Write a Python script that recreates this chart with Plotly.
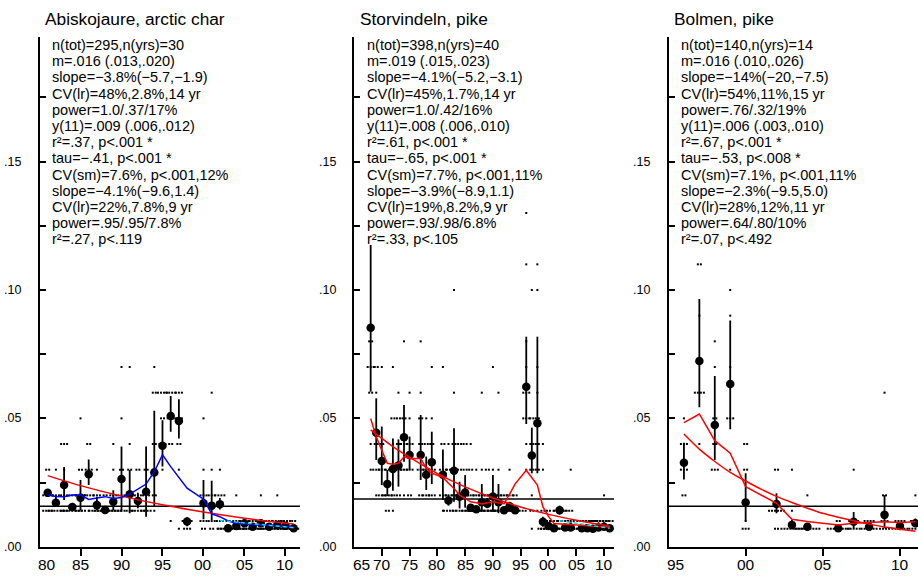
import plotly.graph_objects as go

W, H = 918, 576

# ---------------- DATA ----------------
titles = ["Abiskojaure, arctic char", "Storvindeln, pike", "Bolmen, pike"]

stats_p1 = ["n(tot)=295,n(yrs)=30", "m=.016 (.013,.020)", "slope=−3.8%(−5.7,−1.9)",
            "CV(lr)=48%,2.8%,14 yr", "power=1.0/.37/17%", "y(11)=.009 (.006,.012)",
            "r²=.37, p<.001 *", "tau=−.41, p<.001 *", "CV(sm)=7.6%, p<.001,12%",
            "slope=−4.1%(−9.6,1.4)", "CV(lr)=22%,7.8%,9 yr", "power=.95/.95/7.8%",
            "r²=.27, p<.119"]
stats_p2 = ["n(tot)=398,n(yrs)=40", "m=.019 (.015,.023)", "slope=−4.1%(−5.2,−3.1)",
            "CV(lr)=45%,1.7%,14 yr", "power=1.0/.42/16%", "y(11)=.008 (.006,.010)",
            "r²=.61, p<.001 *", "tau=−.65, p<.001 *", "CV(sm)=7.7%, p<.001,11%",
            "slope=−3.9%(−8.9,1.1)", "CV(lr)=19%,8.2%,9 yr", "power=.93/.98/6.8%",
            "r²=.33, p<.105"]
stats_p3 = ["n(tot)=140,n(yrs)=14", "m=.016 (.010,.026)", "slope=−14%(−20,−7.5)",
            "CV(lr)=54%,11%,15 yr", "power=.76/.32/19%", "y(11)=.006 (.003,.010)",
            "r²=.67, p<.001 *", "tau=−.53, p<.008 *", "CV(sm)=7.1%, p<.001,11%",
            "slope=−2.3%(−9.5,5.0)", "CV(lr)=28%,12%,11 yr", "power=.64/.80/10%",
            "r²=.07, p<.492"]

# yearly means and 95% CI
p1_years = [1981, 1982, 1983, 1984, 1985, 1986, 1987, 1988, 1989, 1990, 1991, 1992, 1993, 1994,
            1995, 1996, 1997, 1998, 2000, 2001, 2002, 2003, 2004, 2005, 2006, 2007, 2008, 2009,
            2010, 2011]
p1_mean = [0.0210, 0.0171, 0.0240, 0.0155, 0.0191, 0.0282, 0.0162, 0.0143, 0.0175, 0.0264,
           0.0204, 0.0178, 0.0214, 0.0289, 0.0393, 0.0509, 0.0490, 0.0098, 0.0169, 0.0160,
           0.0165, 0.0072, 0.0081, 0.0091, 0.0078, 0.0091, 0.0078, 0.0085, 0.0082, 0.0072]
p1_lo = [0.0195, 0.0155, 0.0182, 0.0145, 0.0143, 0.0240, 0.0143, 0.0135, 0.0143, 0.0143,
         0.0130, 0.0150, 0.0117, 0.0155, 0.0312, 0.0448, 0.0422, 0.0080, 0.0107, 0.0104,
         0.0145, 0.0068, 0.0075, 0.0082, 0.0072, 0.0082, 0.0072, 0.0078, 0.0076, 0.0068]
p1_hi = [0.0225, 0.0195, 0.0310, 0.0170, 0.0260, 0.0340, 0.0195, 0.0155, 0.0220, 0.0390,
         0.0299, 0.0210, 0.0390, 0.0530, 0.0493, 0.0587, 0.0574, 0.0115, 0.0260, 0.0257,
         0.0190, 0.0078, 0.0090, 0.0100, 0.0085, 0.0100, 0.0085, 0.0095, 0.0090, 0.0078]

p2_years = [1968, 1969, 1970, 1971, 1972, 1973, 1974, 1975, 1977, 1978, 1979, 1981, 1982, 1983,
            1984, 1985, 1986, 1987, 1988, 1989, 1990, 1991, 1992, 1993, 1994, 1996, 1997, 1998,
            1999, 2000, 2001, 2002, 2003, 2004, 2006, 2007, 2008, 2009, 2010, 2011]
p2_mean = [0.0853, 0.0444, 0.0334, 0.0244, 0.0303, 0.0316, 0.0426, 0.0357, 0.0357, 0.0280,
           0.0329, 0.0280, 0.0180, 0.0296, 0.0195, 0.0211, 0.0152, 0.0146, 0.0173, 0.0167,
           0.0196, 0.0173, 0.0142, 0.0158, 0.0142, 0.0623, 0.0355, 0.0481, 0.0097, 0.0081,
           0.0072, 0.0142, 0.0075, 0.0075, 0.0072, 0.0072, 0.0070, 0.0075, 0.0078, 0.0072]
p2_lo = [0.0604, 0.0338, 0.0240, 0.0197, 0.0218, 0.0234, 0.0331, 0.0299, 0.0260, 0.0221,
         0.0244, 0.0182, 0.0160, 0.0175, 0.0149, 0.0152, 0.0140, 0.0138, 0.0143, 0.0150,
         0.0143, 0.0130, 0.0132, 0.0145, 0.0135, 0.0478, 0.0286, 0.0286, 0.0078, 0.0074,
         0.0068, 0.0125, 0.0070, 0.0070, 0.0068, 0.0068, 0.0066, 0.0070, 0.0072, 0.0068]
p2_hi = [0.1175, 0.0578, 0.0468, 0.0299, 0.0422, 0.0418, 0.0552, 0.0429, 0.0513, 0.0351,
         0.0448, 0.0379, 0.0200, 0.0461, 0.0253, 0.0279, 0.0165, 0.0155, 0.0244, 0.0190,
         0.0279, 0.0244, 0.0155, 0.0175, 0.0150, 0.0818, 0.0464, 0.0818, 0.0117, 0.0090,
         0.0078, 0.0160, 0.0082, 0.0095, 0.0078, 0.0078, 0.0076, 0.0095, 0.0095, 0.0078]

p3_years = [1996, 1997, 1998, 1999, 2000, 2002, 2003, 2004, 2006, 2007, 2008, 2009, 2010, 2011]
p3_mean = [0.0327, 0.0723, 0.0474, 0.0634, 0.0172, 0.0166, 0.0085, 0.0078, 0.0072, 0.0097,
           0.0078, 0.0124, 0.0081, 0.0091]
p3_lo = [0.0262, 0.0543, 0.0338, 0.0458, 0.0101, 0.0130, 0.0072, 0.0072, 0.0068, 0.0072,
         0.0072, 0.0072, 0.0074, 0.0078]
p3_hi = [0.0405, 0.0965, 0.0665, 0.0881, 0.0286, 0.0208, 0.0105, 0.0088, 0.0078, 0.0135,
         0.0088, 0.0201, 0.0090, 0.0110]

# overall mean (horizontal line)
p1_m, p2_m, p3_m = 0.0158, 0.0186, 0.0158

# log-linear regression lines (read at a few years)
p1_reg_years = [1981, 1985, 1990, 1995, 2000, 2005, 2011]
p1_reg = [0.0277, 0.0238, 0.0197, 0.0163, 0.0135, 0.0111, 0.0088]
p2_reg_years = [1968, 1972, 1976, 1980, 1985, 1990, 1995, 2000, 2005, 2011]
p2_reg = [0.0455, 0.0390, 0.0335, 0.0285, 0.0233, 0.0190, 0.0155, 0.0126, 0.0103, 0.0080]
p3_reg_years = [1996, 1997, 1998, 1999, 2000, 2001, 2002, 2003, 2004, 2005, 2006, 2007, 2008,
                2009, 2010, 2011]
p3_reg = [0.0439, 0.0380, 0.0332, 0.0290, 0.0256, 0.0224, 0.0196, 0.0172, 0.0150, 0.0130,
          0.0115, 0.0101, 0.0088, 0.0077, 0.0068, 0.0060]

# smoothed lines
p1_smooth = [0.0201, 0.0196, 0.0195, 0.0201, 0.0201, 0.0184, 0.0190, 0.0195, 0.0188, 0.0192,
             0.0205, 0.0226, 0.0244, 0.0292, 0.0358, 0.0312, 0.0270, 0.0228, 0.0185, 0.0128,
             0.0117, 0.0100, 0.0091, 0.0088, 0.0086, 0.0085, 0.0083, 0.0082, 0.0080, 0.0078]
p2_smooth = [0.0499, 0.0428, 0.0376, 0.0325, 0.0321, 0.0325, 0.0350, 0.0344, 0.0344, 0.0305,
             0.0286, 0.0270, 0.0247, 0.0227, 0.0201, 0.0188, 0.0175, 0.0171, 0.0166, 0.0171,
             0.0175, 0.0171, 0.0168, 0.0205, 0.0245, 0.0298, 0.0270, 0.0240, 0.0155, 0.0118,
             0.0090, 0.0089, 0.0088, 0.0087, 0.0083, 0.0082, 0.0080, 0.0079, 0.0078, 0.0077]
p3_smooth = [0.0483, 0.0517, 0.0413, 0.0364, 0.0234, 0.0169, 0.0107, 0.0098, 0.0085, 0.0091,
             0.0094, 0.0097, 0.0094, 0.0097]

# recent-period trend (dashed cyan)
p1_recent_years = [2002, 2011]
p1_recent = [0.0102, 0.0074]
p2_recent_years = [2002, 2011]
p2_recent = [0.0101, 0.0072]

# individual samples: (year, value, count)
p1_raw = [
    (1981, 0.03, 2), (1981, 0.02, 4), (1981, 0.014, 4),
    (1982, 0.03, 1), (1982, 0.02, 3), (1982, 0.014, 6),
    (1983, 0.04, 3), (1983, 0.03, 1), (1983, 0.02, 3), (1983, 0.014, 3),
    (1984, 0.02, 3), (1984, 0.014, 7),
    (1985, 0.05, 1), (1985, 0.03, 2), (1985, 0.02, 4), (1985, 0.014, 4),
    (1986, 0.04, 2), (1986, 0.03, 3), (1986, 0.02, 4), (1986, 0.014, 1),
    (1987, 0.03, 1), (1987, 0.02, 3), (1987, 0.014, 6),
    (1988, 0.02, 2), (1988, 0.014, 8),
    (1989, 0.04, 1), (1989, 0.03, 1), (1989, 0.02, 3), (1989, 0.014, 6),
    (1990, 0.07, 1), (1990, 0.05, 1), (1990, 0.03, 2), (1990, 0.02, 3), (1990, 0.014, 3),
    (1991, 0.07, 1), (1991, 0.04, 1), (1991, 0.03, 2), (1991, 0.02, 3), (1991, 0.014, 3),
    (1992, 0.03, 2), (1992, 0.02, 3), (1992, 0.014, 5),
    (1993, 0.21, 1), (1993, 0.03, 2), (1993, 0.02, 3), (1993, 0.014, 4),
    (1994, 0.07, 1), (1994, 0.06, 2), (1994, 0.04, 2), (1994, 0.03, 2), (1994, 0.02, 2),
    (1994, 0.014, 1),
    (1995, 0.06, 4), (1995, 0.05, 2), (1995, 0.04, 3), (1995, 0.03, 1),
    (1996, 0.06, 4), (1996, 0.05, 3), (1996, 0.04, 2), (1996, 0.01, 1),
    (1997, 0.06, 3), (1997, 0.05, 3), (1997, 0.04, 2), (1997, 0.03, 1), (1997, 0.007, 1),
    (1998, 0.01, 4), (1998, 0.007, 3),
    (2000, 0.05, 1), (2000, 0.03, 1), (2000, 0.02, 3), (2000, 0.01, 3), (2000, 0.007, 2),
    (2001, 0.06, 1), (2001, 0.03, 1), (2001, 0.02, 3), (2001, 0.01, 3), (2001, 0.007, 2),
    (2002, 0.03, 1), (2002, 0.02, 4), (2002, 0.01, 3), (2002, 0.007, 2),
    (2003, 0.01, 2), (2003, 0.007, 8),
    (2004, 0.02, 1), (2004, 0.01, 3), (2004, 0.007, 6),
    (2005, 0.01, 4), (2005, 0.007, 6),
    (2006, 0.01, 3), (2006, 0.007, 7),
    (2007, 0.02, 1), (2007, 0.01, 4), (2007, 0.007, 5),
    (2008, 0.01, 3), (2008, 0.007, 7),
    (2009, 0.02, 1), (2009, 0.01, 4), (2009, 0.007, 5),
    (2010, 0.01, 4), (2010, 0.007, 6),
    (2011, 0.01, 2), (2011, 0.007, 8),
]
p2_raw = [
    (1968, 0.08, 2), (1968, 0.07, 3), (1968, 0.06, 2), (1968, 0.04, 1), (1968, 0.03, 1),
    (1969, 0.07, 2), (1969, 0.06, 1), (1969, 0.04, 2), (1969, 0.03, 3), (1969, 0.02, 1),
    (1970, 0.07, 1), (1970, 0.04, 2), (1970, 0.03, 3), (1970, 0.02, 3),
    (1971, 0.03, 2), (1971, 0.02, 4), (1971, 0.014, 2),
    (1972, 0.07, 1), (1972, 0.05, 2), (1972, 0.04, 1), (1972, 0.03, 3), (1972, 0.02, 2),
    (1972, 0.014, 1),
    (1973, 0.06, 1), (1973, 0.05, 2), (1973, 0.04, 2), (1973, 0.03, 3), (1973, 0.02, 2),
    (1974, 0.08, 1), (1974, 0.05, 2), (1974, 0.04, 3), (1974, 0.03, 3), (1974, 0.02, 1),
    (1975, 0.06, 1), (1975, 0.05, 1), (1975, 0.04, 3), (1975, 0.03, 3), (1975, 0.02, 2),
    (1977, 0.08, 1), (1977, 0.06, 1), (1977, 0.05, 2), (1977, 0.04, 2), (1977, 0.03, 3),
    (1977, 0.02, 2),
    (1978, 0.05, 1), (1978, 0.04, 2), (1978, 0.03, 3), (1978, 0.02, 3),
    (1979, 0.07, 1), (1979, 0.05, 1), (1979, 0.04, 2), (1979, 0.03, 3), (1979, 0.02, 3),
    (1981, 0.07, 1), (1981, 0.04, 2), (1981, 0.03, 3), (1981, 0.02, 3), (1981, 0.014, 1),
    (1982, 0.04, 1), (1982, 0.03, 2), (1982, 0.02, 3), (1982, 0.014, 4),
    (1983, 0.10, 1), (1983, 0.06, 1), (1983, 0.04, 2), (1983, 0.03, 3), (1983, 0.02, 2),
    (1983, 0.014, 2),
    (1984, 0.04, 2), (1984, 0.03, 2), (1984, 0.02, 3), (1984, 0.014, 3),
    (1985, 0.04, 2), (1985, 0.03, 2), (1985, 0.02, 3), (1985, 0.014, 3),
    (1986, 0.04, 1), (1986, 0.03, 2), (1986, 0.02, 3), (1986, 0.014, 4),
    (1987, 0.03, 1), (1987, 0.02, 3), (1987, 0.014, 6),
    (1988, 0.06, 1), (1988, 0.03, 1), (1988, 0.02, 3), (1988, 0.014, 5),
    (1989, 0.03, 2), (1989, 0.02, 3), (1989, 0.014, 5),
    (1990, 0.07, 1), (1990, 0.03, 1), (1990, 0.02, 4), (1990, 0.014, 4),
    (1991, 0.06, 1), (1991, 0.03, 1), (1991, 0.02, 3), (1991, 0.014, 5),
    (1992, 0.02, 3), (1992, 0.014, 7),
    (1993, 0.03, 1), (1993, 0.02, 3), (1993, 0.014, 6),
    (1994, 0.02, 2), (1994, 0.014, 8),
    (1996, 0.13, 1), (1996, 0.11, 1), (1996, 0.08, 1), (1996, 0.07, 1), (1996, 0.06, 3),
    (1996, 0.05, 3), (1996, 0.04, 1), (1996, 0.03, 1),
    (1997, 0.10, 1), (1997, 0.05, 2), (1997, 0.04, 2), (1997, 0.03, 2), (1997, 0.02, 1),
    (1997, 0.014, 2), (1997, 0.007, 1),
    (1998, 0.11, 1), (1998, 0.10, 1), (1998, 0.07, 1), (1998, 0.06, 1), (1998, 0.05, 2),
    (1998, 0.04, 2), (1998, 0.03, 2), (1998, 0.014, 1),
    (1999, 0.04, 1), (1999, 0.03, 1), (1999, 0.014, 2), (1999, 0.01, 2), (1999, 0.007, 4),
    (2000, 0.014, 2), (2000, 0.01, 2), (2000, 0.007, 6),
    (2001, 0.014, 1), (2001, 0.01, 3), (2001, 0.007, 6),
    (2002, 0.014, 5), (2002, 0.01, 2), (2002, 0.007, 3),
    (2003, 0.014, 2), (2003, 0.01, 3), (2003, 0.007, 5),
    (2004, 0.03, 1), (2004, 0.014, 2), (2004, 0.01, 3), (2004, 0.007, 5),
    (2006, 0.01, 4), (2006, 0.007, 6),
    (2007, 0.01, 4), (2007, 0.007, 6),
    (2008, 0.01, 3), (2008, 0.007, 7),
    (2009, 0.01, 4), (2009, 0.007, 6),
    (2010, 0.02, 1), (2010, 0.01, 4), (2010, 0.007, 5),
    (2011, 0.01, 3), (2011, 0.007, 7),
]
p3_raw = [
    (1996, 0.05, 1), (1996, 0.04, 3), (1996, 0.03, 3), (1996, 0.02, 2),
    (1997, 0.11, 2), (1997, 0.09, 1), (1997, 0.06, 4), (1997, 0.04, 1),
    (1998, 0.08, 1), (1998, 0.07, 1), (1998, 0.05, 2), (1998, 0.04, 2), (1998, 0.03, 3),
    (1999, 0.10, 1), (1999, 0.09, 1), (1999, 0.07, 1), (1999, 0.05, 3), (1999, 0.03, 1),
    (2000, 0.04, 2), (2000, 0.03, 2), (2000, 0.01, 1), (2000, 0.007, 3),
    (2002, 0.03, 2), (2002, 0.014, 6), (2002, 0.007, 2),
    (2003, 0.03, 1), (2003, 0.014, 1), (2003, 0.007, 8),
    (2004, 0.02, 1), (2004, 0.007, 9),
    (2006, 0.01, 2), (2006, 0.007, 8),
    (2007, 0.03, 1), (2007, 0.01, 4), (2007, 0.007, 5),
    (2008, 0.01, 4), (2008, 0.007, 6),
    (2009, 0.06, 1), (2009, 0.02, 2), (2009, 0.01, 3), (2009, 0.007, 4),
    (2010, 0.01, 4), (2010, 0.007, 6),
    (2011, 0.02, 1), (2011, 0.01, 4), (2011, 0.007, 5),
]

# axis tick values / labels
y_tickvals = [0, 0.025, 0.05, 0.075, 0.10, 0.125, 0.15, 0.175]
y_label_vals = [0, 0.05, 0.10, 0.15]
y_label_text = [".00", ".05", ".10", ".15"]
x_tick_sets = [
    ([1985, 1990, 1995, 2000, 2005, 2010], ["85", "90", "95", "00", "05", "10"]),
    ([1970, 1975, 1980, 1985, 1990, 1995, 2000, 2005, 2010],
     ["70", "75", "80", "85", "90", "95", "00", "05", "10"]),
    ([2000, 2005, 2010], ["00", "05", "10"]),
]
first_labels = ["80", "65", "95"]

# ---------------- LAYOUT GEOMETRY (pixels) ----------------
X_LEFT = [39.5, 354.0, 668.5]
X_RIGHT = [300.0, 614.0, 918.0]
X_RANGE = [[1980, 2011.77], [1965, 2011.79], [1995, 2011.17]]
Y_BOT, Y_TOP = 546.7, 36.7
Y_RANGE = [0, 0.19868]

panels = [
    dict(title=titles[0], stats=stats_p1, years=p1_years, mean=p1_mean, lo=p1_lo, hi=p1_hi,
         m=p1_m, reg=(p1_reg_years, p1_reg), smooth=p1_smooth, smooth_color="#0000ff",
         recent=(p1_recent_years, p1_recent), raw=p1_raw),
    dict(title=titles[1], stats=stats_p2, years=p2_years, mean=p2_mean, lo=p2_lo, hi=p2_hi,
         m=p2_m, reg=(p2_reg_years, p2_reg), smooth=p2_smooth, smooth_color="#ff0000",
         recent=(p2_recent_years, p2_recent), raw=p2_raw),
    dict(title=titles[2], stats=stats_p3, years=p3_years, mean=p3_mean, lo=p3_lo, hi=p3_hi,
         m=p3_m, reg=(p3_reg_years, p3_reg), smooth=p3_smooth, smooth_color="#ff0000",
         recent=None, raw=p3_raw),
]

FONT = "Liberation Sans, Arial, sans-serif"
fig = go.Figure()
annotations = []
shapes = []
ydom = [(H - Y_BOT) / H, (H - Y_TOP) / H]
XLAB_Y = (H - 564.3) / H

for i, p in enumerate(panels):
    k = i + 1
    xs = "" if k == 1 else str(k)
    xa, ya = "x" + xs, "y" + xs
    px_per_year = (X_RIGHT[i] - X_LEFT[i]) / (X_RANGE[i][1] - X_RANGE[i][0])
    dot_step = 3.0 / px_per_year

    # raw samples, spread horizontally around their year
    rx, ry = [], []
    for (yr, v, n) in p["raw"]:
        for j in range(n):
            rx.append(yr + (j - (n - 1) / 2) * dot_step)
            ry.append(v)
    fig.add_trace(go.Scatter(x=rx, y=ry, mode="markers", xaxis=xa, yaxis=ya,
                             marker=dict(symbol="square", size=2, color="black",
                                         line=dict(width=0)),
                             cliponaxis=False, showlegend=False, hoverinfo="skip"))

    # error bars
    ex, ey = [], []
    for yr, lo, hi in zip(p["years"], p["lo"], p["hi"]):
        ex += [yr, yr, None]
        ey += [lo, hi, None]
    fig.add_trace(go.Scatter(x=ex, y=ey, mode="lines", xaxis=xa, yaxis=ya,
                             line=dict(color="black", width=1.8),
                             showlegend=False, hoverinfo="skip"))
    # means
    fig.add_trace(go.Scatter(x=p["years"], y=p["mean"], mode="markers", xaxis=xa, yaxis=ya,
                             marker=dict(size=8.5, color="black"),
                             showlegend=False, hoverinfo="skip"))
    # regression
    fig.add_trace(go.Scatter(x=p["reg"][0], y=p["reg"][1], mode="lines", xaxis=xa, yaxis=ya,
                             line=dict(color="#ff0000", width=1.5, shape="spline",
                                       smoothing=0.6),
                             showlegend=False, hoverinfo="skip"))
    # smoother
    fig.add_trace(go.Scatter(x=p["years"], y=p["smooth"], mode="lines", xaxis=xa, yaxis=ya,
                             line=dict(color=p["smooth_color"], width=1.5),
                             showlegend=False, hoverinfo="skip"))
    if p["recent"] is not None:
        fig.add_trace(go.Scatter(x=p["recent"][0], y=p["recent"][1], mode="lines",
                                 xaxis=xa, yaxis=ya,
                                 line=dict(color="#00e5e5", width=1.5, dash="4px,3px"),
                                 showlegend=False, hoverinfo="skip"))

    # horizontal overall mean
    shapes.append(dict(type="line", xref=xa + " domain", x0=0, x1=1, yref=ya,
                       y0=p["m"], y1=p["m"], line=dict(color="black", width=1.5),
                       layer="below"))

    tv, tt = x_tick_sets[i]
    fig.layout["xaxis" + xs] = dict(
        domain=[X_LEFT[i] / W, X_RIGHT[i] / W], range=X_RANGE[i], anchor=ya,
        showline=True, linecolor="black", linewidth=2, mirror=False,
        ticks="outside", ticklen=7, tickwidth=1.5, tickcolor="black",
        tickvals=tv, showticklabels=False,
        showgrid=False, zeroline=False, fixedrange=True)
    fig.layout["yaxis" + xs] = dict(
        domain=ydom, range=Y_RANGE, anchor=xa,
        showline=True, linecolor="black", linewidth=2,
        ticks="inside", ticklen=6, tickwidth=1.5, tickcolor="black",
        tickvals=y_tickvals, showticklabels=False,
        showgrid=False, zeroline=False, fixedrange=True)

    # x tick labels
    for v, t in zip(tv, tt):
        annotations.append(dict(text=t, xref=xa, yref="paper", x=v, y=XLAB_Y,
                                xanchor="center", yanchor="middle", showarrow=False,
                                font=dict(family=FONT, size=15.5, color="#000000")))
    annotations.append(dict(text=first_labels[i], xref=xa, yref="paper",
                            x=X_RANGE[i][0], xshift=7, y=XLAB_Y,
                            xanchor="center", yanchor="middle", showarrow=False,
                            font=dict(family=FONT, size=15.5, color="#000000")))
    # y tick labels
    for v, t in zip(y_label_vals, y_label_text):
        annotations.append(dict(text=t, xref="paper", yref=ya,
                                x=(X_LEFT[i] - 16.5) / W, y=v,
                                xanchor="right", yanchor="middle", showarrow=False,
                                font=dict(family=FONT, size=12.5, color="#000000")))
    # title
    annotations.append(dict(text=p["title"], xref="paper", yref="paper",
                            x=(X_LEFT[i] + 3.5) / W, y=(H - 18.5) / H,
                            xanchor="left", yanchor="middle", showarrow=False,
                            font=dict(family=FONT, size=17.3, color="#000000")))
    # statistics text block
    for j, line in enumerate(p["stats"]):
        annotations.append(dict(text=line, xref="paper", yref="paper",
                                x=(X_LEFT[i] + 10.5) / W, y=(H - (45 + 16.2 * j)) / H,
                                xanchor="left", yanchor="middle", showarrow=False,
                                font=dict(family=FONT, size=14.5, color="#000000")))

fig.update_layout(width=W, height=H, margin=dict(l=0, r=0, t=0, b=0),
                  paper_bgcolor="white", plot_bgcolor="white",
                  annotations=annotations, shapes=shapes, showlegend=False)

fig.write_html("out.html", config={"displayModeBar": False},
               post_script="document.body.style.margin='0';document.body.style.overflow='hidden';")
